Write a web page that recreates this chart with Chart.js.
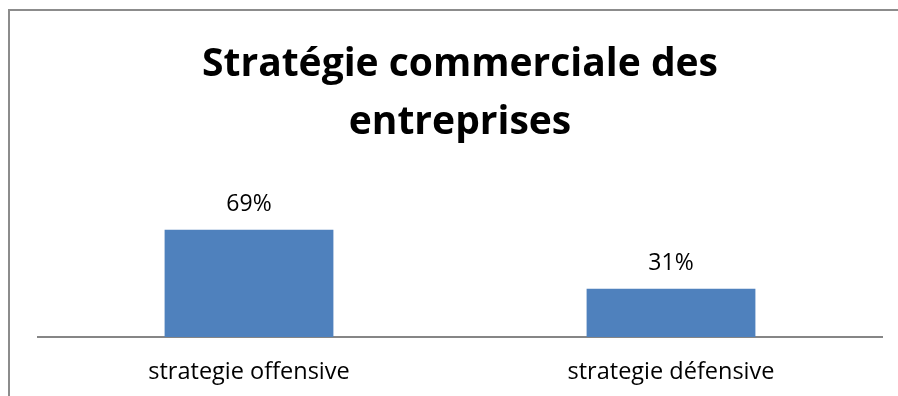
<!DOCTYPE html>
<html lang="fr">
<head>
<meta charset="utf-8">
<title>Stratégie commerciale des entreprises</title>
<script src="https://cdn.jsdelivr.net/npm/chart.js@4/dist/chart.umd.min.js"></script>
<style>
  html, body { margin: 0; padding: 0; background: #fff; }
  #frame {
    position: absolute;
    left: 8px;
    top: 9px;
    width: 890px;
    height: 387px;
    border-top: 2px solid #8c8c8c;
    border-left: 2px solid #8c8c8c;
  }
  #chart { display: block; }
</style>
</head>
<body>
<div id="frame">
  <canvas id="chart" width="888" height="385"></canvas>
</div>
<script>
const titleLines = ["Stratégie commerciale des", "entreprises"];
const categories = ["strategie offensive", "strategie défensive"];
const shares = [69, 31];

// writes "NN%" above each bar
const valueLabels = {
    id: "valueLabels",
    afterDatasetsDraw(chart) {
        const ctx = chart.ctx;
        const meta = chart.getDatasetMeta(0);
        ctx.save();
        ctx.font = "23px 'Open Sans'";
        ctx.fillStyle = "#000";
        ctx.textAlign = "center";
        ctx.textBaseline = "alphabetic";
        meta.data.forEach((bar, i) => {
            ctx.fillText(`${shares[i]}%`, bar.x, bar.y - 19);
        });
        ctx.restore();
    }
};

new Chart(document.getElementById("chart"), {
    type: "bar",
    data: {
        labels: categories,
        datasets: [{
            data: shares,
            backgroundColor: "#4F81BD",
            borderWidth: 0,
            barPercentage: 0.4,
            categoryPercentage: 1
        }]
    },
    options: {
        responsive: false,
        animation: false,
        layout: {
            padding: { left: 28, right: 16, top: 0, bottom: 0 }
        },
        plugins: {
            legend: { display: false },
            tooltip: { enabled: false },
            title: {
                display: true,
                text: titleLines,
                color: "#000",
                font: { family: "'Open Sans'", size: 39, weight: "bold", lineHeight: 1.48 },
                padding: { top: 25, bottom: 30 }
            }
        },
        scales: {
            y: {
                display: false,
                min: 0,
                max: 100
            },
            x: {
                grid: { display: false, drawTicks: false },
                border: { color: "#868686", width: 2 },
                ticks: {
                    color: "#000",
                    padding: 21,
                    font: { family: "'Open Sans'", size: 23.5 }
                },
                // keep the axis band a fixed height below the plot
                afterFit(scale) {
                    scale.height = 59;
                }
            }
        }
    },
    plugins: [valueLabels]
});
</script>
</body>
</html>
